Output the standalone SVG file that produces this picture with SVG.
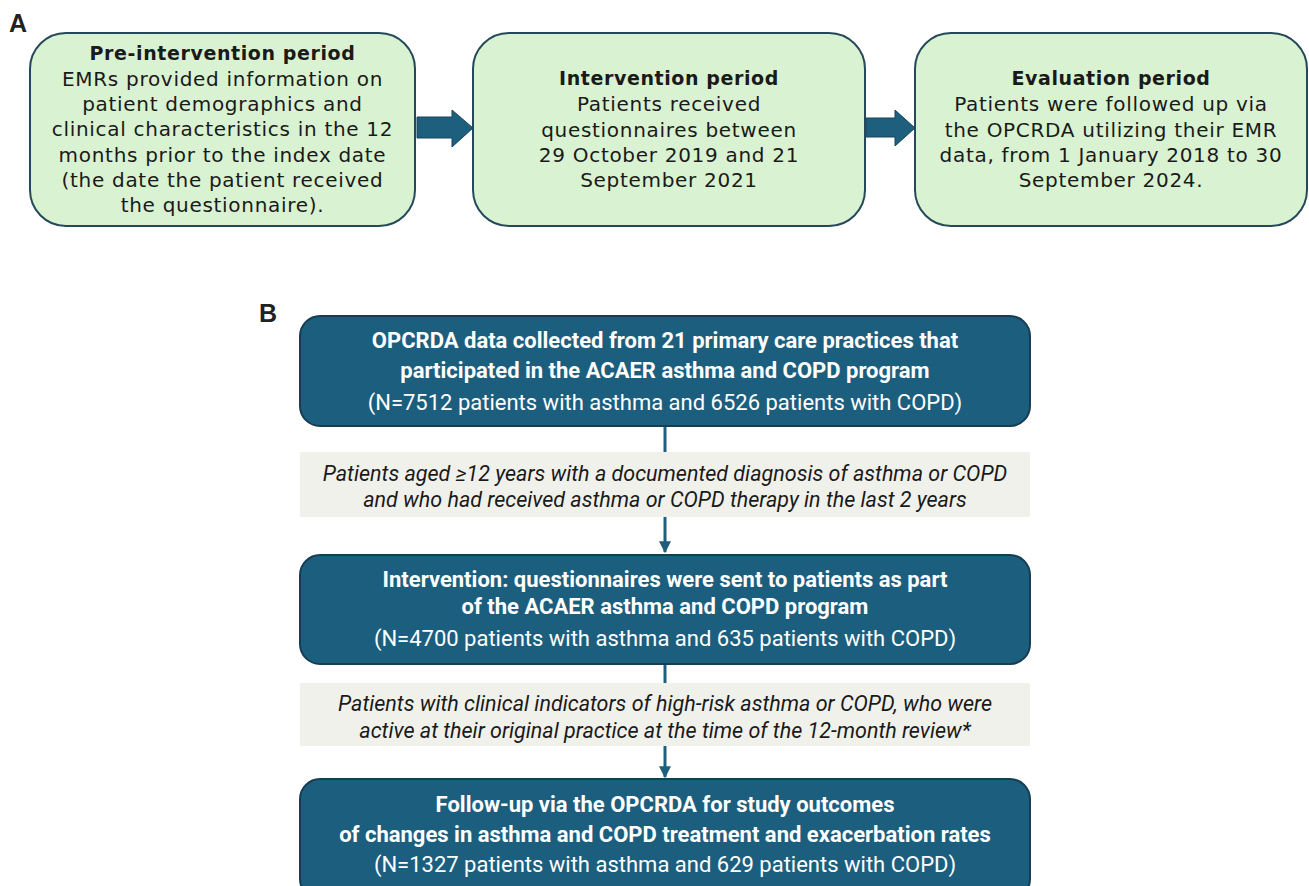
<svg xmlns="http://www.w3.org/2000/svg" width="1309" height="886" viewBox="0 0 1309 886">
<style>
.gbox{fill:#d9f2d1;stroke:#25495a;stroke-width:2}
.bbox{fill:#1c5e7e;stroke:#163e52;stroke-width:2}
.fbox{fill:#f1f1ec}
.ta{font-family:"DejaVu Sans","Noto Sans",sans-serif;font-size:20px;letter-spacing:0.7px;fill:#1a1a1a;text-anchor:middle}
.tab{font-weight:bold;font-size:19px;letter-spacing:0.6px}
.tb{font-family:"Roboto","Liberation Sans",sans-serif;font-size:22px;fill:#ffffff;text-anchor:middle}
.tbb{font-weight:bold}
.ti{font-family:"Roboto","Liberation Sans",sans-serif;font-size:21.5px;font-style:italic;fill:#1a1a1a;text-anchor:middle}
.lbl{font-family:"Liberation Sans","Arial",sans-serif;font-size:25px;font-weight:bold;fill:#222}
.conn{stroke:#1f5f7e;stroke-width:3;fill:none}
.barrow{fill:#1f5f7e;stroke:#17455c;stroke-width:1}
</style>
<defs>
<marker id="ah" viewBox="0 0 10 10" refX="9" refY="5" markerWidth="4" markerHeight="4" orient="auto" markerUnits="strokeWidth">
<path d="M0,0 L10,5 L0,10 z" fill="#1f5f7e"/>
</marker>
</defs>
<rect width="1309" height="886" fill="#ffffff"/>
<text class="lbl" x="9" y="32">A</text>
<text class="lbl" x="259" y="322">B</text>

<g id="connectors">
<polygon class="barrow" points="417,117 452,117 452,110 473,128 452,147 452,138 417,138"/>
<polygon class="barrow" points="866,118 895,118 895,110 915,128 895,146 895,137 866,137"/>
<line class="conn" x1="665" y1="427" x2="665" y2="452"/>
<line class="conn" x1="665" y1="517" x2="665" y2="552" marker-end="url(#ah)"/>
<line class="conn" x1="665" y1="665" x2="665" y2="683"/>
<line class="conn" x1="665" y1="746" x2="665" y2="777" marker-end="url(#ah)"/>
</g>

<g id="pre">
<rect class="gbox" x="30" y="33" width="385" height="193" rx="36"/>
<text class="ta tab" x="222.5" y="60">Pre-intervention period</text>
<text class="ta" x="222.5" y="85.5">EMRs provided information on</text>
<text class="ta" x="222.5" y="111">patient demographics and</text>
<text class="ta" x="222.5" y="136">clinical characteristics in the 12</text>
<text class="ta" x="222.5" y="161.5">months prior to the index date</text>
<text class="ta" x="222.5" y="187">(the date the patient received</text>
<text class="ta" x="222.5" y="212">the questionnaire).</text>
</g>

<g id="intervention">
<rect class="gbox" x="473" y="33" width="392" height="193" rx="36"/>
<text class="ta tab" x="669" y="85">Intervention period</text>
<text class="ta" x="669" y="111">Patients received</text>
<text class="ta" x="669" y="137">questionnaires between</text>
<text class="ta" x="669" y="162">29 October 2019 and 21</text>
<text class="ta" x="669" y="187">September 2021</text>
</g>

<g id="evaluation">
<rect class="gbox" x="915" y="33" width="392" height="193" rx="36"/>
<text class="ta tab" x="1111" y="85">Evaluation period</text>
<text class="ta" x="1111" y="111">Patients were followed up via</text>
<text class="ta" x="1111" y="137">the OPCRDA utilizing their EMR</text>
<text class="ta" x="1111" y="162">data, from 1 January 2018 to 30</text>
<text class="ta" x="1111" y="187">September 2024.</text>
</g>

<g id="b1">
<rect class="bbox" x="300" y="316" width="730" height="110" rx="20"/>
<text class="tb tbb" x="665" y="348">OPCRDA data collected from 21 primary care practices that</text>
<text class="tb tbb" x="665" y="378">participated in the ACAER asthma and COPD program</text>
<text class="tb" x="665" y="410">(N=7512 patients with asthma and 6526 patients with COPD)</text>
</g>

<g id="f1">
<rect class="fbox" x="300" y="452" width="730" height="65"/>
<text class="ti" x="665" y="481">Patients aged ≥12 years with a documented diagnosis of asthma or COPD</text>
<text class="ti" x="665" y="507">and who had received asthma or COPD therapy in the last 2 years</text>
</g>

<g id="b2">
<rect class="bbox" x="300" y="555" width="730" height="109" rx="20"/>
<text class="tb tbb" x="665" y="587">Intervention: questionnaires were sent to patients as part</text>
<text class="tb tbb" x="665" y="614">of the ACAER asthma and COPD program</text>
<text class="tb" x="665" y="646">(N=4700 patients with asthma and 635 patients with COPD)</text>
</g>

<g id="f2">
<rect class="fbox" x="300" y="683" width="730" height="63"/>
<text class="ti" x="665" y="711">Patients with clinical indicators of high-risk asthma or COPD, who were</text>
<text class="ti" x="665" y="738">active at their original practice at the time of the 12-month review*</text>
</g>

<g id="b3">
<rect class="bbox" x="300" y="779" width="730" height="120" rx="20"/>
<text class="tb tbb" x="665" y="812">Follow-up via the OPCRDA for study outcomes</text>
<text class="tb tbb" x="665" y="842">of changes in asthma and COPD treatment and exacerbation rates</text>
<text class="tb" x="665" y="872">(N=1327 patients with asthma and 629 patients with COPD)</text>
</g>
</svg>
